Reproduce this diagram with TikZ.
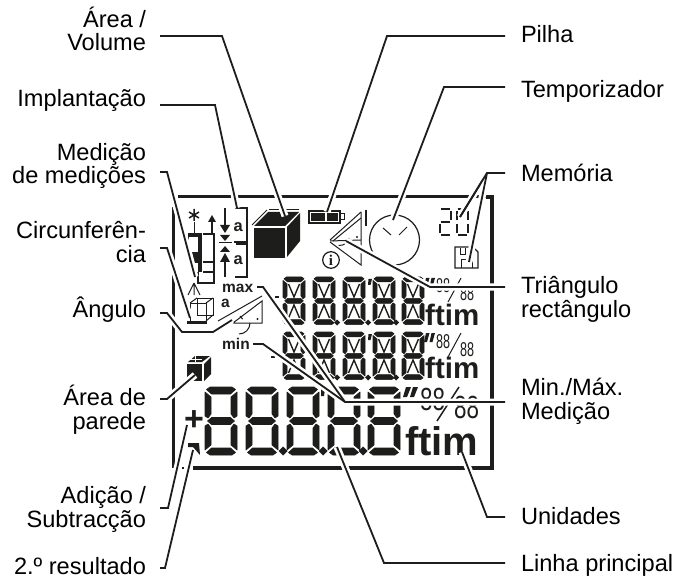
\documentclass[tikz,border=0pt]{standalone}
\usepackage{fontspec}
\setmainfont{Liberation Sans}
\newfontfamily\infofont{Liberation Serif}
\usepackage{xcolor}
\usetikzlibrary{calc}
\definecolor{ink}{HTML}{1D1D1B}

\begin{document}
\begin{tikzpicture}[
  x=1pt, y=-1pt,
  lblleft/.style={anchor=base east, align=right, inner sep=0pt, outer xsep=14pt, text=black, font=\fontsize{23.6}{23.5}\selectfont},
  lblright/.style={anchor=base west, align=left, inner sep=0pt, outer xsep=16pt, text=black, font=\fontsize{23.6}{23.5}\selectfont},
  halo/.style={draw=white, line width=7pt, line join=miter},
  leadline/.style={draw=ink, line width=1.8pt, line join=miter},
  leader/.style={leadline, preaction={halo}},
  frame/.style={draw=ink, line width=3pt, line join=miter},
  thinline/.style={draw=ink, line width=1pt},
  midline/.style={draw=ink, line width=1.5pt},
  lcd/.style={draw=ink, line width=2.4pt},
  seg/.style={fill=ink, draw=ink, line width=.6pt, line join=round},
  boldtxt/.style={inner sep=0pt, anchor=base west, text=ink, font=\bfseries\fontsize{#1}{#1}\selectfont},
  lcdnum/.style={inner sep=0pt, anchor=base west, text=ink, font=\fontsize{#1}{#1}\selectfont},
  bigdig/.pic={
    \path[seg] (5,0)--(27,0)--(30.5,2.5)--(25.5,7)--(6.5,7)--(1.5,2.5)--cycle;
    \path[seg] (0,5)--(6,10)--(6,27)--(3,31)--(0,29)--cycle;
    \path[seg] (32,5)--(32,29)--(29,31)--(26,27)--(26,10)--cycle;
    \path[seg] (2.5,34)--(6.5,30.5)--(25.5,30.5)--(29.5,34)--(25.5,37.5)--(6.5,37.5)--cycle;
    \path[seg] (0,39)--(3,37)--(6,41)--(6,58)--(0,63)--cycle;
    \path[seg] (32,39)--(32,63)--(26,58)--(26,41)--(29,37)--cycle;
    \path[seg] (1.5,65.5)--(6.5,61)--(25.5,61)--(30.5,65.5)--(27,68)--(5,68)--cycle;
  },
  altdig/.pic={
    \pic[xscale=.69, yscale=.7] {bigdig};
    \draw[ink, line width=1.4pt] (5.5,7)--(11,20)--(16.5,7);
    \draw[ink, line width=1.4pt] (5.5,41)--(11,28)--(16.5,41);
  }
]
\useasboundingbox (0,0) rectangle (677,577);

% display frame
\draw[frame] (178,197) -- (490,197);
\draw[frame, line width=4pt] (486,197) -- (492,197) -- (492,468) -- (193,468);
\draw[frame] (173,207) -- (173,468);
\fill[ink] (182,467) rectangle (184,469);

% main line
\foreach \x in {205,246,287,328,368} \pic at (\x,387) {bigdig};
\foreach \x in {283,323,363} \fill[ink] (\x,446.5) -- (\x+4.5,451) -- (\x,455.5) -- (\x-4.5,451) -- cycle;
\fill[ink] (321,389) -- (325,389) -- (324,396) -- (321,396) -- cycle;
\fill[ink] (406,387) -- (411,387) -- (407,397) -- (403,397) -- cycle;
\fill[ink] (413,387) -- (418,387) -- (414,397) -- (410,397) -- cycle;
\node[lcdnum=32, xscale=.7] (bigUp) at (420,410) {88};
\node[lcdnum=32, xscale=.7] (bigLow) at (454,418) {88};
\draw[ink, line width=1.5pt] (437,421) -- (459,387);
\node[boldtxt=40] (bigUnit) at (405,455) {ftim};

% upper lines
\foreach \y in {277,332} {
  \foreach \x in {283,313,343,373,402} \pic at (\x,\y) {altdig};
  \foreach \x in {337,368,396} \fill[ink] (\x,\y+42.5) -- (\x+3,\y+45.5) -- (\x,\y+48.5) -- (\x-3,\y+45.5) -- cycle;
  \fill[ink] (368.5,\y+2) -- (372,\y+2) -- (370.5,\y+8) -- (368,\y+8) -- cycle;
  \fill[ink] (426,\y+1) -- (429.5,\y+1) -- (427,\y+10) -- (424,\y+10) -- cycle;
  \fill[ink] (431.5,\y+1) -- (435,\y+1) -- (432.5,\y+10) -- (429.5,\y+10) -- cycle;
  \draw[ink, line width=1pt] (448,\y+25) -- (461,\y+1);
}
\node[lcdnum=20, xscale=.63] (oneUp) at (436,293) {88};
\node[lcdnum=20, xscale=.63] (oneLow) at (460,301) {88};
\node[lcdnum=20, xscale=.63] (twoUp) at (436,348) {88};
\node[lcdnum=20, xscale=.63] (twoLow) at (460,356) {88};
\node[boldtxt=29.5] (oneUnit) at (425,325) {ftim};
\node[boldtxt=29.5] (twoUnit) at (425,378) {ftim};
\fill[ink] (275,296) rectangle (279,298);
\fill[ink] (271,356) rectangle (275,358);

% volume cube
\fill[ink] (254,228) rectangle (285,258);
\fill[ink] (254,226) -- (268,212) -- (299,212) -- (285,226) -- cycle;
\fill[ink] (287,227) -- (300,213) -- (300,241) -- (287,257) -- cycle;
\draw[thinline] (252,225) -- (267,210);
\draw[thinline] (269,209.5) -- (299,209.5);

% battery
\draw[thinline, line width=1.2pt] (309,211) rectangle (340,223);
\fill[ink] (311,213) rectangle (325,221);
\fill[ink] (326.5,213) rectangle (338,221);
\draw[thinline] (340,214) -- (344,214) -- (344,220) -- (340,220);

% stake out
\draw[midline] (225,208) -- (225,226);
\fill[ink] (220,225) -- (230,225) -- (225,233) -- cycle;
\fill[ink] (220,235) -- (230,235) -- (225,241) -- cycle;
\draw[midline] (219,242.5) -- (232,242.5);
\fill[ink] (220,252) -- (230,252) -- (225,246) -- cycle;
\fill[ink] (220,262) -- (230,262) -- (225,253) -- cycle;
\draw[midline] (225,260) -- (225,277);
\node[boldtxt=16.5] (setUp) at (233.5,232) {a};
\node[boldtxt=16.5] (setLow) at (233.5,265) {a};
\draw[midline] (235,208) -- (247,208) -- (247,242) -- (234,242);
\draw[midline] (236,244) -- (247,244) -- (247,277) -- (235,277);

% laser and wire cube
\draw[midline] (194,209) -- (194,221) (189,212) -- (199,218) (189,218) -- (199,212);
\draw[thinline] (194,222) -- (194,233);
\fill[ink] (188,233) rectangle (202,237);
\fill[ink] (198,237) rectangle (202,272);
\fill[ink] (192,252) rectangle (198,263);
\draw[thinline] (188,237) -- (188,245);
\draw[thinline, line width=1.2pt] (212,222) -- (212,233);
\fill[ink] (208,222) -- (216,222) -- (212,215) -- cycle;
\draw[midline] (203,234) -- (214,234) -- (214,283) -- (198,283) -- (198,272);
\draw[midline] (203,262) -- (214,262) (203,272) -- (214,272);
\draw[thinline] (194,283) -- (188,295) (194,283) -- (194,295) (194,283) -- (200,295);
\draw[thinline] (190,303) rectangle (206,321) (197,298) rectangle (213,315);
\draw[thinline] (190,303) -- (197,298) (206,303) -- (213,298) (206,321) -- (213,315);
\fill[ink] (187,321) rectangle (207,324);

% angle
\node[boldtxt=15.5] (maxTxt) at (222,293) {max};
\node[boldtxt=15.5] (aTxt) at (221,307) {a};
\node[boldtxt=15.5] (minTxt) at (222,349) {min};
\draw[thinline] (218,321) -- (262,296);
\draw[thinline] (233,323) -- (262,301) -- (262,323) -- cycle;
\draw[thinline] (240,316) arc (-60:-20:6);
\draw[thinline] (250,323) arc (180:270:-11);
\fill[ink] (257.5,319) circle (1.2);

% right triangle
\draw[thinline] (330,240) -- (361,212);
\draw[thinline] (333,241) -- (361,218);
\draw[thinline] (330,241) -- (361,240);
\draw[thinline] (330,242) -- (361,265) -- (361,212);
\draw[midline] (366,210) -- (366,226);
\draw[thinline] (349,238) arc (190:280:-9);
\fill[ink] (357,237) circle (1.2);
\draw[thinline, line width=1.2pt] (331,260) circle (8.3);
\node[inner sep=0pt, text=ink, font=\infofont\bfseries\fontsize{15}{15}\selectfont] (infoTxt) at (331,260) {i};

% timer
\draw[thinline, line width=1.2pt] (394.5,240) circle (25);
\draw[thinline] (383,228) -- (391,235) (407,227) -- (399,235);

% memory
\draw[lcd] (441,209) -- (450,209) (451,211) -- (451,220) (441,222) -- (450,222) (440,224) -- (440,233) (441,235) -- (450,235);
\draw[lcd] (458,209) -- (467,209) (468,211) -- (468,220) (468,224) -- (468,233) (458,235) -- (467,235) (457,224) -- (457,233) (457,211) -- (457,220);
\draw[thinline, line width=1.2pt] (455,247) -- (473,247) -- (478,252) -- (478,268) -- (455,268) -- cycle;
\draw[thinline] (461,268) -- (461,260) -- (472,260) -- (472,268);
\draw[thinline] (460,248) -- (460,255) -- (465,255) -- (465,248);

% wall cube, signs
\fill[ink] (187,364) rectangle (202,381);
\fill[ink] (204,364) -- (211,357) -- (211,374) -- (204,381) -- cycle;
\fill[ink] (188,362) -- (195,356) -- (210,356) -- (202,362) -- cycle;
\draw[white, line width=.5pt] (195,356) -- (195,362) (188,359) -- (202,359);
\node[inner sep=0pt, text=ink, font=\bfseries\fontsize{34}{34}\selectfont] (plusTxt) at (194,421) {+};
\fill[ink] (188,443) -- (199,443) -- (200,455) -- (193,447) -- (188,447) -- cycle;

% labels
\node[lblleft] (area) at (160,51) {Área /\\Volume};
\node[lblleft] (implant) at (160,107) {Implantação};
\node[lblleft] (medmed) at (160,184) {Medição\\de medições};
\node[lblleft] (circ) at (160,262) {Circunferên-\\cia};
\node[lblleft] (angulo) at (160,317) {Ângulo};
\node[lblleft] (parede) at (160,429) {Área de\\parede};
\node[lblleft] (adicao) at (160,527) {Adição /\\Subtracção};
\node[lblleft] (second) at (160,574) {2.º resultado};
\node[lblright] (pilha) at (505,43) {Pilha};
\node[lblright] (timer) at (505,98) {Temporizador};
\node[lblright] (memo) at (505,182) {Memória};
\node[lblright] (triang) at (505,317) {Triângulo\\rectângulo};
\node[lblright] (minmax) at (505,419) {Min./Máx.\\Medição};
\node[lblright] (unid) at (505,524) {Unidades};
\node[lblright] (linha) at (505,571) {Linha principal};

% leader ends
\coordinate (areaBend) at (222,36);
\coordinate (areaTip) at (285,216);
\coordinate (implantBend) at (215,105);
\coordinate (implantTip) at (237,208);
\coordinate (medmedBend) at (167,172);
\coordinate (medmedTip) at (195,277);
\coordinate (circBend) at (167,248);
\coordinate (circTip) at (190,318);
\coordinate (anguloBendA) at (167,313);
\coordinate (anguloBendB) at (182,332);
\coordinate (anguloBendC) at (213,332);
\coordinate (anguloTip) at (232,320);
\coordinate (paredeBend) at (167,399);
\coordinate (paredeTip) at (195,375);
\coordinate (adicaoBend) at (168,508);
\coordinate (adicaoTip) at (187,425);
\coordinate (secondBend) at (165,568);
\coordinate (secondTip) at (193,450);
\coordinate (pilhaBend) at (387,36);
\coordinate (pilhaTip) at (327,212);
\coordinate (timerBend) at (444,87);
\coordinate (timerTip) at (393,220);
\coordinate (memoBend) at (487,173);
\coordinate (memoTipA) at (460,217);
\coordinate (memoTipB) at (469,262);
\coordinate (triangBend) at (430,287);
\coordinate (triangTip) at (346,241);
\coordinate (maxStart) at (257,287);
\coordinate (maxBend) at (263,287);
\coordinate (minStart) at (253,344);
\coordinate (minBend) at (263,344);
\coordinate (minmaxJoin) at (345,402);
\coordinate (unidBend) at (487,517);
\coordinate (unidTip) at (462,452);
\coordinate (linhaBend) at (384,563);
\coordinate (linhaTip) at (337,447);

\draw[leader] (area.east |- areaBend) -- (areaBend) -- (areaTip);
\draw[leader] (implant.east |- implantBend) -- (implantBend) -- (implantTip);
\draw[leader] (medmed.east |- medmedBend) -- (medmedBend) -- (medmedTip);
\draw[leader] (circ.east |- circBend) -- (circBend) -- (circTip);
\draw[leader] (angulo.east |- anguloBendA) -- (anguloBendA) -- (anguloBendB) -- (anguloBendC) -- (anguloTip);
\draw[leader] (parede.east |- paredeBend) -- (paredeBend) -- (paredeTip);
\draw[leader] (adicao.east |- adicaoBend) -- (adicaoBend) -- (adicaoTip);
\draw[leader] (second.east |- secondBend) -- (secondBend) -- (secondTip);
\draw[leader] (pilha.west |- pilhaBend) -- (pilhaBend) -- (pilhaTip);
\draw[leader] (timer.west |- timerBend) -- (timerBend) -- (timerTip);
\draw[leader] (memoBend) -- (memoTipA);
\draw[leader] (memoBend) -- (memoTipB);
\draw[leadline] (memo.west |- memoBend) -- (memoBend) -- (memoTipA);
\draw[leader] (triang.west |- triangBend) -- (triangBend) -- (triangTip);
\draw[halo] (maxStart) -- (maxBend) -- (minmaxJoin);
\draw[halo] (minStart) -- (minBend) -- (minmaxJoin) -- (minmax.west |- minmaxJoin);
\draw[leadline] (maxStart) -- (maxBend) -- (minmaxJoin);
\draw[leadline] (minStart) -- (minBend) -- (minmaxJoin) -- (minmax.west |- minmaxJoin);
\draw[leader] (unid.west |- unidBend) -- (unidBend) -- (unidTip);
\draw[leader] (linha.west |- linhaBend) -- (linhaBend) -- (linhaTip);
\end{tikzpicture}
\end{document}
